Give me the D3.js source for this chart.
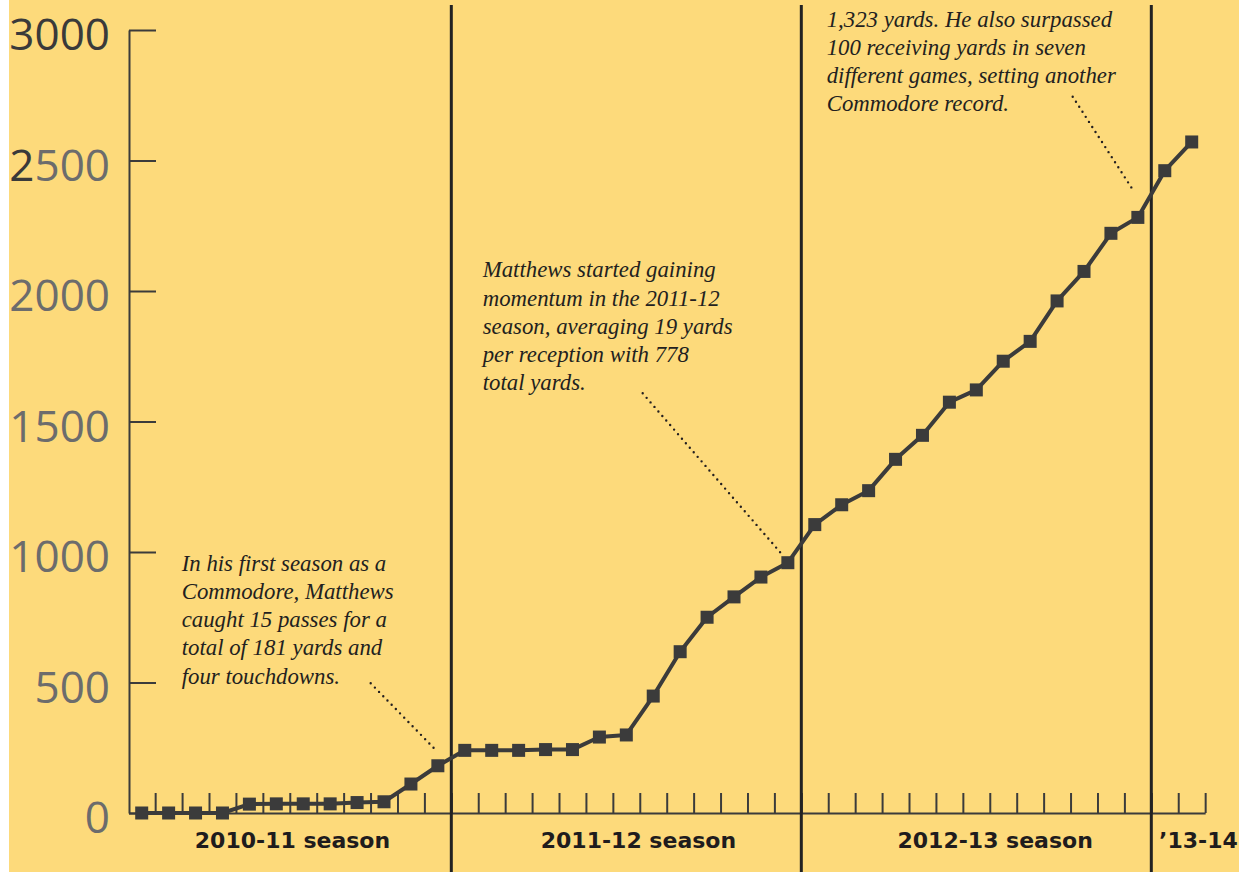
<!DOCTYPE html>
<html>
<head>
<meta charset="utf-8">
<script src="https://cdn.jsdelivr.net/npm/d3@7"></script>
<style>
  html, body { margin: 0; padding: 0; background: #fff; }
  svg { display: block; }
</style>
</head>
<body>
<div id="chart"></div>
<script>
// Cumulative receiving yards, game by game

const seasons = ["2010-11 season", "2011-12 season", "2012-13 season", "\u201913-14"];
const gamesPerSeason = [12, 13, 13, 2];
const yards = [
  0, 0, 0, 0, 34, 35, 35, 35, 40, 43, 111, 181,
  240, 240, 240, 243, 243, 291, 299, 448, 618, 750, 828, 904, 959,
  1105, 1181, 1235, 1355, 1447, 1574, 1621, 1731, 1807, 1962, 2075, 2221, 2282,
  2461, 2571
];
const yTicks = [0, 500, 1000, 1500, 2000, 2500, 3000];

const note1 = ["In his first season as a", "Commodore, Matthews", "caught 15 passes for a",
  "total of 181 yards and", "four touchdowns."];
const note2 = ["Matthews started gaining", "momentum in the 2011-12", "season, averaging 19 yards",
  "per reception with 778", "total yards."];
const note3 = ["1,323 yards. He also surpassed", "100 receiving yards in seven",
  "different games, setting another", "Commodore record."];

const [w, h] = [1239, 872];
const [bg, ink, dark, grey] = ["#fdda7b", "#3b3b3b", "#222222", "#6c6c6c"];

const svg = d3.select("#chart").append("svg")
  .attr("width", w)
  .attr("height", h);

svg.append("rect").attr("x", 9).attr("width", w - 9).attr("height", h).attr("fill", bg);

const x = d3.scaleLinear().domain([0, yards.length - 1]).range([141.7, 1191.7]);
const y = d3.scaleLinear().domain([0, 3000]).range([813, 30]);

// season boundaries (after cumulative games)
let cum = 0;
const bounds = gamesPerSeason.map(g => (cum += g));
const labelAt = [5.6, 18.45, 31.7, 39.25];

// y axis
const yAxis = d3.axisLeft(y)
  .tickValues(yTicks)
  .tickSize(-27)
  .tickSizeOuter(0)
  .tickPadding(19)
  .tickFormat(d3.format("d"));

const gy = svg.append("g")
  .attr("transform", "translate(129,0)")
  .call(yAxis);
gy.select(".domain").attr("stroke", ink).attr("stroke-width", 2);
gy.selectAll(".tick line").attr("stroke", ink).attr("stroke-width", 2);
gy.selectAll(".tick text")
  .attr("font-family", "'Open Sans', sans-serif")
  .attr("font-size", 44)
  .attr("dy", "0.45em")
  .attr("fill", grey)
  .each(function(d) {
    const t = d3.select(this);
    if (d === 3000) t.attr("fill", "#3a3a3a");
    if (d === 2500) {
      t.text(null);
      t.append("tspan").attr("fill", "#3a3a3a").text("2");
      t.append("tspan").text("500");
    }
  });

// x axis, tick between every game
const xAxisScale = x.copy().domain([x.invert(128.5), yards.length - 0.5]).range([128.5, x(yards.length - 0.5)]);
const xAxis = d3.axisBottom(xAxisScale)
  .tickValues(d3.range(yards.length).map(i => i + 0.5))
  .tickSize(-20)
  .tickSizeOuter(0)
  .tickFormat("");

const gx = svg.append("g")
  .attr("transform", "translate(0,813)")
  .call(xAxis);
gx.select(".domain").attr("stroke", ink).attr("stroke-width", 2);
gx.selectAll(".tick line").attr("stroke", ink).attr("stroke-width", 2);

// season dividers
svg.selectAll("line.season")
  .data(bounds.slice(0, -1))
  .enter().append("line")
  .attr("class", "season")
  .attr("x1", d => x(d - 0.5)).attr("x2", d => x(d - 0.5))
  .attr("y1", 5).attr("y2", h)
  .attr("stroke", dark)
  .attr("stroke-width", 3);

// season labels
svg.selectAll("text.season")
  .data(seasons)
  .enter().append("text")
  .attr("class", "season")
  .attr("x", (d, i) => x(labelAt[i]))
  .attr("y", 848)
  .attr("text-anchor", "middle")
  .attr("font-family", "'DejaVu Sans', sans-serif")
  .attr("font-weight", "bold")
  .attr("font-size", 22)
  .attr("fill", "#1f1c1d")
  .text(d => d);

// notes
function note(lines, left, top) {
  const t = svg.append("text")
    .attr("font-family", "'Liberation Serif', serif")
    .attr("font-style", "italic")
    .attr("font-size", 22.8)
    .attr("fill", "#231f20");
  lines.forEach((l, i) => {
    t.append("tspan").attr("x", left).attr("y", top + i * 28.2).text(l);
  });
}
note(note1, 181.7, 570.7);
note(note2, 482.7, 277.3);
note(note3, 826.7, 26.7);

// dotted leaders
const leaders = [
  [370.7, 683.3, 11, -0.4, -14],
  [642.7, 393.3, 24, -5.3, -7.7],
  [1072.7, 96.7, 37, -3.7, -25.6]
];
svg.selectAll("line.leader")
  .data(leaders)
  .enter().append("line")
  .attr("class", "leader")
  .attr("x1", d => d[0]).attr("y1", d => d[1])
  .attr("x2", d => x(d[2]) + d[3]).attr("y2", d => y(yards[d[2]]) + d[4])
  .attr("stroke", "#231f20")
  .attr("stroke-width", 2.4)
  .attr("stroke-linecap", "round")
  .attr("stroke-dasharray", "0 6");

// the line
const line = d3.line()
  .x((d, i) => x(i))
  .y(d => y(d));

svg.append("path")
  .datum(yards)
  .attr("d", line)
  .attr("fill", "none")
  .attr("stroke", ink)
  .attr("stroke-width", 4)
  .attr("stroke-linejoin", "round");

const s = 13;
svg.selectAll("rect.dot")
  .data(yards)
  .enter().append("rect")
  .attr("class", "dot")
  .attr("x", (d, i) => x(i) - s / 2)
  .attr("y", d => y(d) - s / 2)
  .attr("width", s)
  .attr("height", s)
  .attr("fill", ink);
</script>
</body>
</html>
